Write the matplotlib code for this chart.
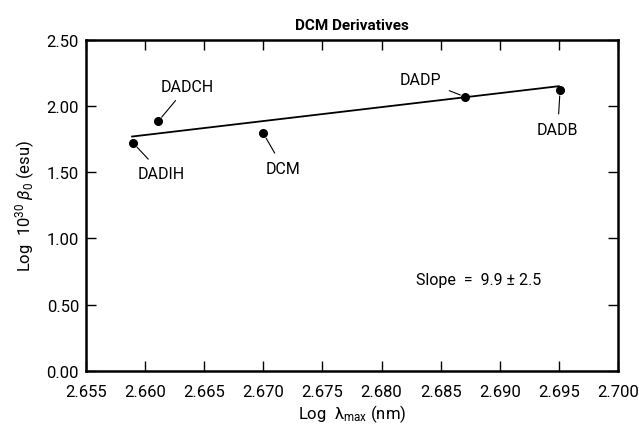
import matplotlib
matplotlib.use("Agg")
import matplotlib.pyplot as plt

names = ["DADIH", "DADCH", "DCM", "DADP", "DADB"]
log_lambda = [2.6590, 2.6611, 2.6700, 2.6871, 2.6951]
log_beta = [1.719, 1.883, 1.793, 2.067, 2.117]
fit_x = [2.6589, 2.6950]
fit_y = [1.769, 2.149]
xticks = [2.655, 2.660, 2.665, 2.670, 2.675, 2.680, 2.685, 2.690, 2.695, 2.700]
yticks = [0.00, 0.50, 1.00, 1.50, 2.00, 2.50]

# label positions (data units) for annotations
label_pos = {
    "DADIH": (2.6614, 1.49),
    "DADCH": (2.6636, 2.15),
    "DCM": (2.6717, 1.53),
    "DADP": (2.6833, 2.20),
    "DADB": (2.6949, 1.82),
}

plt.rcParams['font.family'] = ['Roboto', 'DejaVu Sans']
plt.rcParams['mathtext.fontset'] = 'custom'
plt.rcParams['mathtext.rm'] = 'Roboto'
plt.rcParams['mathtext.it'] = 'Roboto:italic'
fig = plt.figure(figsize=(6.39, 4.27), dpi=100)
ax = fig.add_axes([0.1346, 0.1288, 0.8325, 0.776])

ax.plot(fit_x, fit_y, color='black', lw=1.3)
ax.plot(log_lambda, log_beta, 'o', color='black', ms=5.5)

for n, x, y in zip(names, log_lambda, log_beta):
    tx, ty = label_pos[n]
    ax.annotate(n, xy=(x, y), xytext=(tx, ty), fontsize=11.5, ha='center', va='center',
                arrowprops=dict(arrowstyle='-', color='black', lw=0.8, shrinkA=4, shrinkB=4))

ax.text(2.6829, 0.69, "Slope  =  9.9 \u00b1 2.5", fontsize=11.5, ha='left', va='center')

ax.set_xlim(2.655, 2.700)
ax.set_ylim(0.0, 2.5)
ax.set_xticks(xticks)
ax.set_xticklabels([f"{v:.3f}" for v in xticks])
ax.set_yticks(yticks)
ax.set_yticklabels([f"{v:.2f}" for v in yticks])
ax.tick_params(direction='in', length=7, width=1, labelsize=12, top=True, right=True)
ax.tick_params(axis='x', pad=9)
ax.tick_params(axis='y', pad=5)
for s in ax.spines.values():
    s.set_linewidth(1.8)

ax.set_title("DCM Derivatives", fontsize=11, fontweight='bold', pad=8)
ax.set_xlabel("Log  \u03bb$_{\\mathrm{max}}$ (nm)", fontsize=12, labelpad=3)
ax.set_ylabel(r"Log  10$^{30}$ $\beta_0$ (esu)", fontsize=12, labelpad=7)

fig.savefig("out.png", dpi=100)
